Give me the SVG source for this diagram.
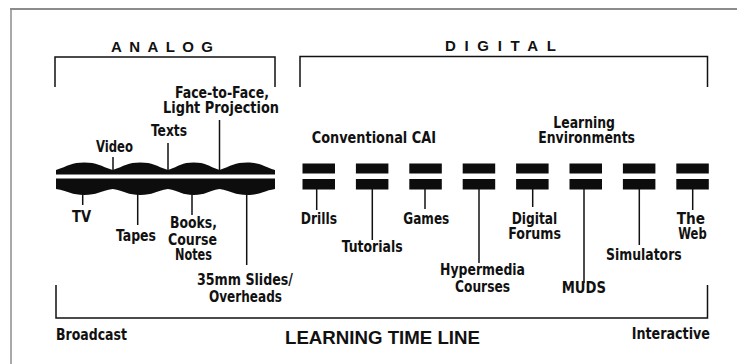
<svg xmlns="http://www.w3.org/2000/svg" width="737" height="364" viewBox="0 0 737 364">
  <style>
    .lbl { font-family: "Liberation Sans Narrow", "DejaVu Sans Condensed", "Liberation Sans", sans-serif; font-weight: bold; font-size: 15px; fill: #111; }
    .head { font-family: "Liberation Sans", "DejaVu Sans", sans-serif; font-weight: bold; font-size: 15px; fill: #111; }
    .title { font-family: "Liberation Sans", "DejaVu Sans", sans-serif; font-weight: bold; font-size: 19px; fill: #111; }
    .bracket { fill: none; stroke: #111; stroke-width: 1.5; }
    .lead { stroke: #111; stroke-width: 1.5; fill: none; }
    .bar { fill: #0d0d0d; }
    .frame { stroke: #8c8c8c; fill: none; }
  </style>

  <rect width="737" height="364" fill="#ffffff"/>

  <!-- page frame -->
  <g id="frame">
    <line class="frame" x1="10" y1="9" x2="737" y2="9" stroke-width="2"/>
    <line class="frame" x1="11" y1="9" x2="11" y2="364" stroke-width="1.5"/>
  </g>

  <!-- brackets -->
  <g id="analog-bracket">
    <path class="bracket" d="M55,87 V57 H275 V87"/>
    <text class="head" x="111" y="51.5" textLength="102">ANALOG</text>
  </g>
  <g id="digital-bracket">
    <path class="bracket" d="M300,87 V56.5 H707.5 V87"/>
    <text class="head" x="445" y="50.5" textLength="111">DIGITAL</text>
  </g>
  <g id="timeline-bracket">
    <path class="bracket" d="M56,285 V318 H707.5 V285"/>
    <text class="lbl" x="56" y="340" textLength="71" lengthAdjust="spacingAndGlyphs">Broadcast</text>
    <text class="title" x="285" y="344" textLength="195" lengthAdjust="spacingAndGlyphs">LEARNING TIME LINE</text>
    <text class="lbl" x="631.7" y="339.3" textLength="78.3" lengthAdjust="spacingAndGlyphs">Interactive</text>
  </g>

  <!-- analog wave band -->
  <g id="analog-band">
    <path class="bar" d="M56,174.5 V170
      C68,166 72,162.5 84.3,162.5 C96.6,162.5 100.5,166 112.7,170
      C124.5,166 128,162.5 140.3,162.5 C152.6,162.5 156,166 168,170
      C179.5,166 182,162.5 193.7,162.5 C205.4,162.5 208,166 219.5,170
      C231,166 235,162.5 247.3,162.5 C259.6,162.5 263,166 275,170
      V174.5 Z"/>
    <path class="bar" d="M56,178.5 H275 V189
      C263,191 259.6,195 247.3,195 C235,195 231,191 219.5,189
      C208,191 205.4,195 193.7,195 C182,195 179.5,191 168,189
      C156,191 152.6,195 140.3,195 C128,195 124.5,191 112.7,189
      C100.5,191 96.6,195 84.3,195 C72,195 68,191 56,189 Z"/>
  </g>

  <!-- digital bar pairs -->
  <g id="digital-bars">
    <g id="bar-drills"><rect class="bar" x="302.5" y="163.5" width="32.5" height="10"/><rect class="bar" x="302.5" y="179" width="32.5" height="10.5"/></g>
    <g id="bar-tutorials"><rect class="bar" x="355.9" y="163.5" width="32.5" height="10"/><rect class="bar" x="355.9" y="179" width="32.5" height="10.5"/></g>
    <g id="bar-games"><rect class="bar" x="409.3" y="163.5" width="32.5" height="10"/><rect class="bar" x="409.3" y="179" width="32.5" height="10.5"/></g>
    <g id="bar-hypermedia"><rect class="bar" x="462.7" y="163.5" width="32.5" height="10"/><rect class="bar" x="462.7" y="179" width="32.5" height="10.5"/></g>
    <g id="bar-forums"><rect class="bar" x="516.1" y="163.5" width="32.5" height="10"/><rect class="bar" x="516.1" y="179" width="32.5" height="10.5"/></g>
    <g id="bar-muds"><rect class="bar" x="569.5" y="163.5" width="32.5" height="10"/><rect class="bar" x="569.5" y="179" width="32.5" height="10.5"/></g>
    <g id="bar-simulators"><rect class="bar" x="622.9" y="163.5" width="32.5" height="10"/><rect class="bar" x="622.9" y="179" width="32.5" height="10.5"/></g>
    <g id="bar-web"><rect class="bar" x="676.3" y="163.5" width="32.5" height="10"/><rect class="bar" x="676.3" y="179" width="32.5" height="10.5"/></g>
  </g>

  <!-- leader lines -->
  <g id="connectors">
    <line class="lead" x1="113" y1="157" x2="113" y2="170"/>
    <line class="lead" x1="168" y1="143" x2="168" y2="170"/>
    <line class="lead" x1="219.5" y1="120" x2="219.5" y2="170"/>
    <line class="lead" x1="82.7" y1="194" x2="82.7" y2="205"/>
    <line class="lead" x1="137.7" y1="194" x2="137.7" y2="225"/>
    <line class="lead" x1="192" y1="194" x2="192" y2="215"/>
    <line class="lead" x1="246.7" y1="194" x2="246.7" y2="265"/>
    <line class="lead" x1="316.7" y1="189" x2="316.7" y2="210"/>
    <line class="lead" x1="372.3" y1="189" x2="372.3" y2="240"/>
    <line class="lead" x1="425" y1="189" x2="425" y2="209"/>
    <line class="lead" x1="479" y1="189" x2="479" y2="263"/>
    <line class="lead" x1="532.7" y1="189" x2="532.7" y2="207"/>
    <line class="lead" x1="584" y1="189" x2="584" y2="283"/>
    <line class="lead" x1="639.3" y1="189" x2="639.3" y2="245"/>
    <line class="lead" x1="692.7" y1="189" x2="692.7" y2="210"/>
  </g>

  <!-- analog labels -->
  <g id="video"><text class="lbl" x="96" y="152" textLength="37" lengthAdjust="spacingAndGlyphs">Video</text></g>
  <g id="texts"><text class="lbl" x="151" y="136" textLength="36" lengthAdjust="spacingAndGlyphs">Texts</text></g>
  <g id="face-to-face">
    <text class="lbl" x="175" y="98" textLength="94" lengthAdjust="spacingAndGlyphs">Face-to-Face,</text>
    <text class="lbl" x="163" y="113" textLength="116" lengthAdjust="spacingAndGlyphs">Light Projection</text>
  </g>
  <g id="tv"><text class="lbl" x="72" y="222" textLength="19" lengthAdjust="spacingAndGlyphs">TV</text></g>
  <g id="tapes"><text class="lbl" x="116" y="240.5" textLength="40" lengthAdjust="spacingAndGlyphs">Tapes</text></g>
  <g id="books">
    <text class="lbl" x="170" y="228" textLength="47" lengthAdjust="spacingAndGlyphs">Books,</text>
    <text class="lbl" x="168" y="245" textLength="49" lengthAdjust="spacingAndGlyphs">Course</text>
    <text class="lbl" x="175" y="260" textLength="37" lengthAdjust="spacingAndGlyphs">Notes</text>
  </g>
  <g id="slides">
    <text class="lbl" x="197" y="285" textLength="96" lengthAdjust="spacingAndGlyphs">35mm Slides/</text>
    <text class="lbl" x="209" y="301.5" textLength="73" lengthAdjust="spacingAndGlyphs">Overheads</text>
  </g>

  <!-- digital labels -->
  <g id="conventional-cai"><text class="lbl" x="311.7" y="143.3" textLength="124.3" lengthAdjust="spacingAndGlyphs">Conventional CAI</text></g>
  <g id="learning-environments">
    <text class="lbl" x="553.3" y="128.3" textLength="61.7" lengthAdjust="spacingAndGlyphs">Learning</text>
    <text class="lbl" x="538.3" y="143.3" textLength="96.7" lengthAdjust="spacingAndGlyphs">Environments</text>
  </g>
  <g id="drills"><text class="lbl" x="300.7" y="224" textLength="36.3" lengthAdjust="spacingAndGlyphs">Drills</text></g>
  <g id="tutorials"><text class="lbl" x="341.7" y="251.7" textLength="61" lengthAdjust="spacingAndGlyphs">Tutorials</text></g>
  <g id="games"><text class="lbl" x="403.3" y="224" textLength="46" lengthAdjust="spacingAndGlyphs">Games</text></g>
  <g id="hypermedia">
    <text class="lbl" x="440" y="275" textLength="85" lengthAdjust="spacingAndGlyphs">Hypermedia</text>
    <text class="lbl" x="455" y="291.7" textLength="55" lengthAdjust="spacingAndGlyphs">Courses</text>
  </g>
  <g id="digital-forums">
    <text class="lbl" x="511.7" y="224" textLength="45.6" lengthAdjust="spacingAndGlyphs">Digital</text>
    <text class="lbl" x="508.3" y="239.3" textLength="52.7" lengthAdjust="spacingAndGlyphs">Forums</text>
  </g>
  <g id="muds"><text class="lbl" x="561.7" y="293.3" textLength="44.3" lengthAdjust="spacingAndGlyphs">MUDS</text></g>
  <g id="simulators"><text class="lbl" x="606" y="260" textLength="75.7" lengthAdjust="spacingAndGlyphs">Simulators</text></g>
  <g id="the-web">
    <text class="lbl" x="676.7" y="224" textLength="28.3" lengthAdjust="spacingAndGlyphs">The</text>
    <text class="lbl" x="678.3" y="239.3" textLength="28.4" lengthAdjust="spacingAndGlyphs">Web</text>
  </g>
</svg>
